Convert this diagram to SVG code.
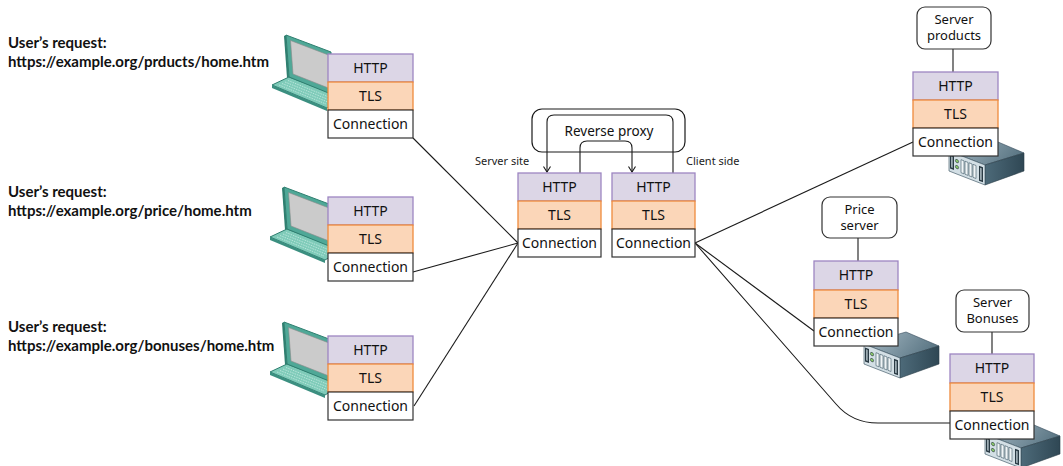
<svg xmlns="http://www.w3.org/2000/svg" width="1063" height="466" viewBox="0 0 1063 466">
  <style>
    .req { font-family: Lato, "Liberation Sans", sans-serif; font-weight: bold; font-size: 15px; fill: #111; }
    .lbl { font-family: "Noto Sans", "Liberation Sans", sans-serif; font-size: 14px; fill: #111; text-anchor: middle; }
    .tagtxt { font-family: "Noto Sans", "Liberation Sans", sans-serif; font-size: 13px; fill: #111; text-anchor: middle; }
    .small { font-family: "Noto Sans", "Liberation Sans", sans-serif; font-size: 11px; fill: #222; }
    .http { fill: #dcd6e6; stroke: #9d86c2; stroke-width: 1.3; }
    .tls { fill: #fbd6b8; stroke: #ee8a3c; stroke-width: 1.3; }
    .conn { fill: #ffffff; stroke: #333333; stroke-width: 1.2; }
    .tag { fill: #ffffff; stroke: #333333; stroke-width: 1.2; }
    .wire { fill: none; stroke: #1a1a1a; stroke-width: 1.1; }
  </style>
  <defs>
    <marker id="arr" markerWidth="10" markerHeight="10" refX="5" refY="9" orient="0" markerUnits="userSpaceOnUse">
      <path d="M1.5,3.5 L5,9 L8.5,3.5" fill="none" stroke="#1a1a1a" stroke-width="1.1"/>
    </marker>
    <linearGradient id="srvTop" x1="0" y1="0" x2="1" y2="0.3">
      <stop offset="0" stop-color="#a9bcc7"/>
      <stop offset="1" stop-color="#5d7886"/>
    </linearGradient>
    <linearGradient id="srvSide" x1="0" y1="0" x2="1" y2="0">
      <stop offset="0" stop-color="#4d6a79"/>
      <stop offset="1" stop-color="#2f4754"/>
    </linearGradient>
    <!-- rack server icon, 75 x 48 -->
    <g id="server">
      <polygon points="0,14 42,2 75,16 36,28" fill="url(#srvTop)" stroke="#34495a" stroke-width="0.6"/>
      <polygon points="36,28 75,16 75,34 36,48" fill="url(#srvSide)" stroke="#2a3c47" stroke-width="0.6"/>
      <g transform="matrix(1,0.389,0,1,0,14)">
        <rect x="0" y="0" width="36" height="20" fill="#d3dfe5" stroke="#3d5563" stroke-width="0.6"/>
        <path d="M1,3 h4 v14 h-4 z" fill="#2a3a44"/>
        <path d="M2.2,4.5 h1.4 v11 h-1.4 z" fill="#b9c8cf"/>
        <path d="M30,3 h4 v15 h-4 z" fill="#2a3a44"/>
        <path d="M31.2,4.5 h1.4 v12 h-1.4 z" fill="#b9c8cf"/>
        <circle cx="8" cy="7" r="1.6" fill="#8fd06a" stroke="#2a3a44" stroke-width="0.6"/>
        <circle cx="8" cy="13" r="1.6" fill="#8fd06a" stroke="#2a3a44" stroke-width="0.6"/>
        <rect x="12" y="4" width="3" height="13" fill="#f0f5f7" stroke="#4a6270" stroke-width="0.6"/>
        <rect x="16" y="4" width="3" height="13" fill="#f0f5f7" stroke="#4a6270" stroke-width="0.6"/>
        <rect x="20" y="4" width="3" height="13" fill="#f0f5f7" stroke="#4a6270" stroke-width="0.6"/>
        <rect x="24" y="4" width="3" height="13" fill="#f0f5f7" stroke="#4a6270" stroke-width="0.6"/>
      </g>
    </g>
    <!-- laptop icon, origin at the top-left corner of the screen -->
    <g id="laptop">
      <polygon points="-14,50 3,42 58,63 41,73" fill="#7fcbb9" stroke="#2f7f70" stroke-width="1"/>
      <polygon points="-14,50 41,73 41,76 -14,53" fill="#3b8f80"/>
      <path d="M-7,50 L40,69 M-4,48.5 L43,67.5 M-1,47 L46,66 M2,45.5 L49,64.5" stroke="#c5ebe2" stroke-width="0.8" stroke-dasharray="1.5,1"/>
      <polygon points="0,0 45,17 45,59 3,42" fill="#4fa897" stroke="#2f7f70" stroke-width="1"/>
      <polygon points="-2,1 0,0 3,42 1,43" fill="#2f7f70"/>
      <polygon points="4.5,5.5 45,21 45,54 7,39" fill="#cbcbcb" stroke="#8a8a8a" stroke-width="0.6"/>
    </g>
  </defs>

  <!-- request captions -->
  <g id="captions">
    <text class="req" x="8" y="48">User’s request:</text>
    <text class="req" x="8" y="67">https://example.org/prducts/home.htm</text>
    <text class="req" x="8" y="197">User’s request:</text>
    <text class="req" x="8" y="216">https://example.org/price/home.htm</text>
    <text class="req" x="8" y="332">User’s request:</text>
    <text class="req" x="8" y="351">https://example.org/bonuses/home.htm</text>
  </g>

  <!-- connectors -->
  <g id="connectors">
    <path class="wire" d="M413,138 L518,243"/>
    <path class="wire" d="M413,272 L518,243"/>
    <path class="wire" d="M414,406 L518,243"/>
    <path class="wire" d="M695,243 L913,142"/>
    <path class="wire" d="M695,243 L814,331"/>
    <path class="wire" d="M695,243 L836,404 Q852,423 878,423 L950,423"/>
    <path class="wire" d="M953,49 V72"/>
    <path class="wire" d="M858,238 V261"/>
    <path class="wire" d="M992,332 V354"/>
    <path class="wire" d="M673,173 V122 Q673,115 666,115 H554 Q547,115 547,122 V172" marker-end="url(#arr)"/>
    <path class="wire" d="M580,173 V148 Q580,141 587,141 H625 Q632,141 632,148 V172" marker-end="url(#arr)"/>
  </g>

  <!-- client 1 -->
  <g id="client-products">
    <use href="#laptop" x="286" y="35"/>
    <rect class="http" x="328" y="54" width="85" height="28"/>
    <rect class="tls" x="328" y="82" width="85" height="28"/>
    <rect class="conn" x="328" y="110" width="85" height="28"/>
    <text class="lbl" x="370.5" y="73">HTTP</text>
    <text class="lbl" x="370.5" y="101">TLS</text>
    <text class="lbl" x="370.5" y="129">Connection</text>
  </g>

  <!-- client 2 -->
  <g id="client-price">
    <use href="#laptop" x="284" y="187"/>
    <rect class="http" x="328" y="197" width="85" height="28"/>
    <rect class="tls" x="328" y="225" width="85" height="28"/>
    <rect class="conn" x="328" y="253" width="85" height="28"/>
    <text class="lbl" x="370.5" y="216">HTTP</text>
    <text class="lbl" x="370.5" y="244">TLS</text>
    <text class="lbl" x="370.5" y="272">Connection</text>
  </g>

  <!-- client 3 -->
  <g id="client-bonuses">
    <use href="#laptop" x="284" y="322"/>
    <rect class="http" x="328" y="336" width="85" height="28"/>
    <rect class="tls" x="328" y="364" width="85" height="28"/>
    <rect class="conn" x="328" y="392" width="85" height="28"/>
    <text class="lbl" x="370.5" y="355">HTTP</text>
    <text class="lbl" x="370.5" y="383">TLS</text>
    <text class="lbl" x="370.5" y="411">Connection</text>
  </g>

  <!-- reverse proxy -->
  <g id="reverse-proxy">
    <rect x="532" y="109" width="153" height="43" rx="10" fill="none" stroke="#1a1a1a" stroke-width="1.2"/>
    <text class="lbl" x="609" y="136" style="font-size:13.5px">Reverse proxy</text>
    <text class="small" x="475" y="165">Server site</text>
    <text class="small" x="686" y="165">Client side</text>
  </g>

  <g id="proxy-server-site">
    <rect class="http" x="518" y="173" width="83" height="28"/>
    <rect class="tls" x="518" y="201" width="83" height="28"/>
    <rect class="conn" x="518" y="229" width="83" height="28"/>
    <text class="lbl" x="559.5" y="192">HTTP</text>
    <text class="lbl" x="559.5" y="220">TLS</text>
    <text class="lbl" x="559.5" y="248">Connection</text>
  </g>

  <g id="proxy-client-side">
    <rect class="http" x="612" y="173" width="83" height="28"/>
    <rect class="tls" x="612" y="201" width="83" height="28"/>
    <rect class="conn" x="612" y="229" width="83" height="28"/>
    <text class="lbl" x="653.5" y="192">HTTP</text>
    <text class="lbl" x="653.5" y="220">TLS</text>
    <text class="lbl" x="653.5" y="248">Connection</text>
  </g>

  <!-- server: products -->
  <g id="server-products">
    <use href="#server" x="949" y="137"/>
    <rect class="tag" x="917" y="7" width="74" height="42" rx="8"/>
    <text class="tagtxt" x="954" y="24">Server</text>
    <text class="tagtxt" x="954" y="40">products</text>
    <rect class="http" x="913" y="72" width="85" height="28"/>
    <rect class="tls" x="913" y="100" width="85" height="28"/>
    <rect class="conn" x="913" y="128" width="85" height="28"/>
    <text class="lbl" x="955.5" y="91">HTTP</text>
    <text class="lbl" x="955.5" y="119">TLS</text>
    <text class="lbl" x="955.5" y="147">Connection</text>
  </g>

  <!-- server: price -->
  <g id="server-price">
    <use href="#server" x="864" y="330"/>
    <rect class="tag" x="822" y="197" width="75" height="41" rx="8"/>
    <text class="tagtxt" x="859.5" y="214">Price</text>
    <text class="tagtxt" x="859.5" y="230">server</text>
    <rect class="http" x="814" y="261" width="84" height="29"/>
    <rect class="tls" x="814" y="290" width="84" height="28"/>
    <rect class="conn" x="814" y="318" width="84" height="28"/>
    <text class="lbl" x="856" y="280">HTTP</text>
    <text class="lbl" x="856" y="309">TLS</text>
    <text class="lbl" x="856" y="337">Connection</text>
  </g>

  <!-- server: bonuses -->
  <g id="server-bonuses">
    <use href="#server" x="985" y="420"/>
    <rect class="tag" x="956" y="290" width="73" height="42" rx="8"/>
    <text class="tagtxt" x="992.5" y="307">Server</text>
    <text class="tagtxt" x="992.5" y="323">Bonuses</text>
    <rect class="http" x="950" y="354" width="84" height="29"/>
    <rect class="tls" x="950" y="383" width="84" height="28"/>
    <rect class="conn" x="950" y="411" width="84" height="28"/>
    <text class="lbl" x="992" y="373">HTTP</text>
    <text class="lbl" x="992" y="402">TLS</text>
    <text class="lbl" x="992" y="430">Connection</text>
  </g>
</svg>
